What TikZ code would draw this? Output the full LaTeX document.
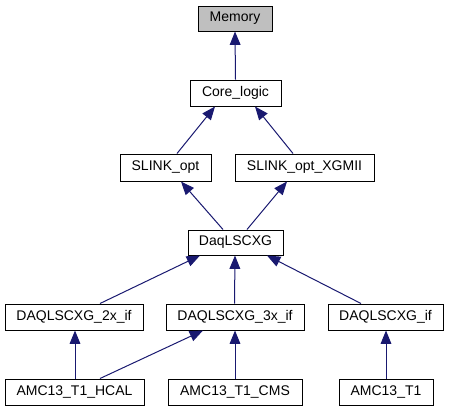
\documentclass[tikz,border=0pt]{standalone}
\usepackage{fontspec}
\setmainfont{Liberation Sans}
\usetikzlibrary{arrows.meta,calc}
\definecolor{edgeblue}{HTML}{191970}
\definecolor{memgray}{HTML}{BFBFBF}
\begin{document}
\begin{tikzpicture}[x=0.75pt,y=-0.75pt,
  cls/.style={draw=black,line width=0.75pt,fill=white,inner sep=0pt,minimum height=26*0.75pt,font=\fontsize{10.5}{12}\selectfont},
  inh/.style={draw=edgeblue,line width=0.75pt,-{Triangle[length=10pt,width=8pt]},color=edgeblue}]
\useasboundingbox (0,0) rectangle (449,411);
\node[cls,fill=memgray,minimum width=74*0.75pt,minimum height=25*0.75pt] (mem) at (235,18.5) {Memory};
\node[cls,minimum width=91*0.75pt] (core) at (235.5,93) {Core\_logic};
\node[cls,minimum width=91*0.75pt,minimum height=27*0.75pt] (sopt) at (165.5,167.5) {SLINK\_opt};
\node[cls,minimum width=139*0.75pt,minimum height=27*0.75pt] (sx) at (304.5,167.5) {SLINK\_opt\_XGMII};
\node[cls,minimum width=95*0.75pt,minimum height=25*0.75pt] (daq) at (235.5,242.5) {DaqLSCXG};
\node[cls,minimum width=138*0.75pt] (d2) at (74,317) {DAQLSCXG\_2x\_if};
\node[cls,minimum width=138*0.75pt] (d3) at (235,317) {DAQLSCXG\_3x\_if};
\node[cls,minimum width=115*0.75pt] (dif) at (385.5,317) {DAQLSCXG\_if};
\node[cls,minimum width=139*0.75pt] (hcal) at (74.5,392) {AMC13\_T1\_HCAL};
\node[cls,minimum width=134*0.75pt] (cms) at (235,392) {AMC13\_T1\_CMS};
\node[cls,minimum width=94*0.75pt] (t1) at (386,392) {AMC13\_T1};
\draw[inh] (core.north) -- (mem.south);
\draw[inh] ($(sopt.north)+(11.5,0)$) -- ($(core.south)+(-20.5,0)$);
\draw[inh] ($(sx.north)+(-11.5,0)$) -- ($(core.south)+(19.5,0)$);
\draw[inh] ($(daq.north)+(-12.5,0)$) -- ($(sopt.south)+(15.5,0)$);
\draw[inh] ($(daq.north)+(11.5,0)$) -- ($(sx.south)+(-17.5,0)$);
\draw[inh] ($(d2.north)+(26,0)$) -- ($(daq.south)+(-35.5,0)$);
\draw[inh] ($(d3.north)+(-0.5,0)$) -- ($(daq.south)+(-0.5,0)$);
\draw[inh] ($(dif.north)+(-24.5,0)$) -- ($(daq.south)+(31.5,0)$);
\draw[inh] ($(hcal.north)+(0.5,0)$) -- ($(d2.south)+(1,0)$);
\draw[inh] ($(hcal.north)+(25.5,0)$) -- ($(d3.south)+(-32,0)$);
\draw[inh] (cms.north) -- (d3.south);
\draw[inh] (t1.north) -- ($(dif.south)+(0.5,0)$);
\end{tikzpicture}
\end{document}
